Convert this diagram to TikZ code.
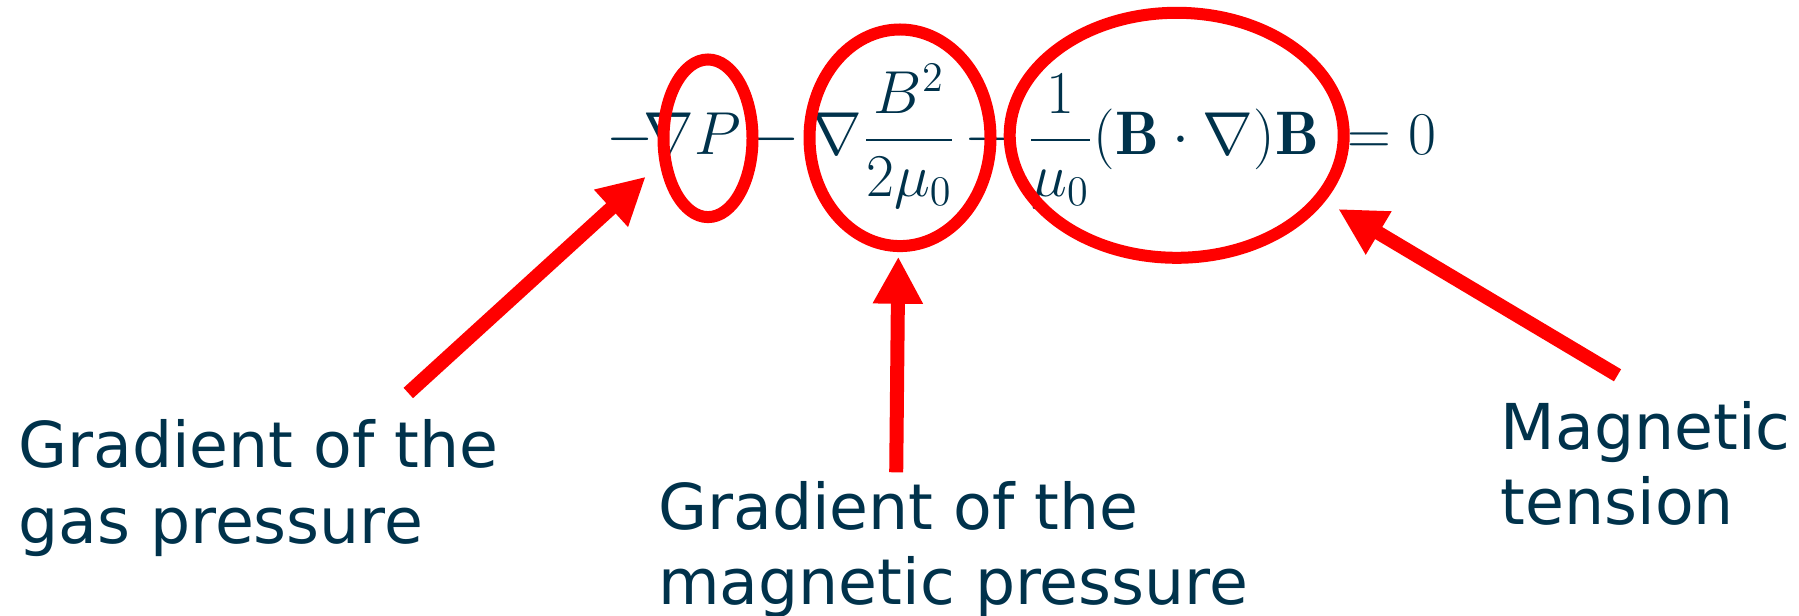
\documentclass[tikz,border=0pt]{standalone}
\usepackage{amsmath}
\usepackage{fontspec}
\usepackage{tikz}
\usetikzlibrary{shapes.geometric, arrows.meta, positioning}
\newfontfamily\notefont{DejaVu Sans}
\definecolor{navytext}{RGB}{0, 50, 75}
\definecolor{markred}{RGB}{255, 0, 0}
\tikzset{
  eqpart/.style={anchor=base, inner sep=0pt, text=navytext,
    font=\fontsize{17.5}{20}\selectfont},
  ring/.style={ellipse, draw=markred, line width=1.2mm, inner sep=0pt},
  note/.style={anchor=base west, align=left, inner sep=0pt, text=navytext,
    font=\notefont\fontsize{18}{21.6}\selectfont},
  arrow/.style={draw=markred, line width=1.4mm,
    -{Triangle[length=4.7mm, width=4.7mm]}}
}

\begin{document}
\begin{tikzpicture}
\useasboundingbox (0,0) rectangle (17.99,6.15);
% the force balance, piece by piece
\node (minusa) [eqpart] at (6.30,4.60) {$-$};
\node (gradp)  [eqpart] at (6.92,4.60) {$\nabla P$};
\node (minusb) [eqpart] at (7.76,4.60) {$-$};
\node (magp)   [eqpart] at (8.84,4.60) {$\nabla\dfrac{B^2}{2\mu_0}$};
\node (minusc) [eqpart] at (9.88,4.60) {$-$};
\node (tens)   [eqpart] at (11.73,4.60) {$\dfrac{1}{\mu_0}(\mathbf{B}\cdot\nabla)\mathbf{B}$};
\node (zero)   [eqpart] at (13.92,4.60) {$=0$};

% red rings round the terms
\node (ringgas) [ring, minimum width=0.89cm, minimum height=1.576cm] at (7.08,4.767) {};
\node (ringmag) [ring, minimum width=1.81cm, minimum height=2.166cm] at (9.00,4.772) {};
\node (ringten) [ring, minimum width=3.34cm, minimum height=2.45cm]  at (11.767,4.797) {};

% explanations (base = last line)
\node (gas) [note] at (0.175,0.717) {Gradient of the\\gas pressure};
\node (mag) [note] at (6.575,0.100) {Gradient of the\\magnetic pressure};
\node (ten) [note] at (15.00,0.900) {Magnetic\\tension};

\coordinate (gastail) at (4.083,2.220);
\coordinate (gastip)  at (6.457,4.383);
\coordinate (magtail) at (8.962,1.427);
\coordinate (magtip)  at (8.983,3.583);
\coordinate (tentail) at (16.175,2.397);
\coordinate (tentip)  at (13.383,4.060);

\draw[arrow] (gastail) -- (gastip);
\draw[arrow] (magtail) -- (magtip);
\draw[arrow] (tentail) -- (tentip);
\end{tikzpicture}
\end{document}
